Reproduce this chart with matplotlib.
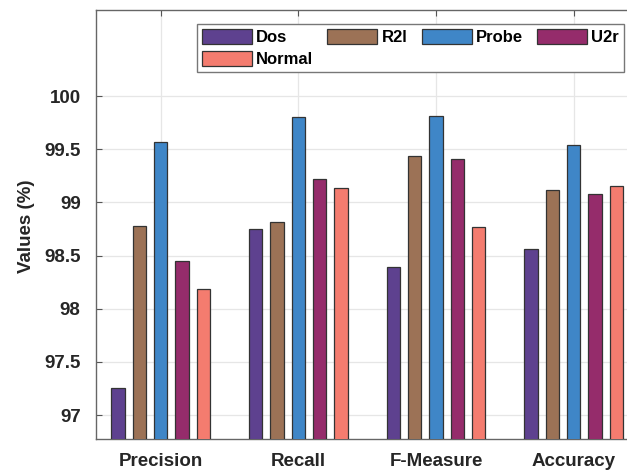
import numpy as np
import matplotlib
matplotlib.use('Agg')
import matplotlib.pyplot as plt

plt.rcParams['font.family'] = ['Liberation Sans', 'DejaVu Sans']
plt.rcParams['font.weight'] = 'bold'

# Data
metrics = ['Precision', 'Recall', 'F-Measure', 'Accuracy']
classes = ['Dos', 'R2l', 'Probe', 'U2r', 'Normal']
dos = [97.25, 98.75, 98.39, 98.56]
r2l = [98.78, 98.82, 99.44, 99.12]
probe = [99.57, 99.80, 99.81, 99.54]
u2r = [98.45, 99.22, 99.41, 99.08]
normal = [98.19, 99.14, 98.77, 99.15]
y_ticks = [97, 97.5, 98, 98.5, 99, 99.5, 100]
y_tick_labels = ['97', '97.5', '98', '98.5', '99', '99.5', '100']

series = [dos, r2l, probe, u2r, normal]
colors = ['#5e418f', '#9c7256', '#3f86c7', '#952c6b', '#f47c6f']

W, H = 627, 474
fig = plt.figure(figsize=(W / 100, H / 100), dpi=100)
# axes runs past the right edge of the image like in the reference
x0, x1 = 0.53, 4.5
px_per_unit = 137.7
ax_w = (x1 - x0) * px_per_unit
ax = fig.add_axes([96 / W, 35 / H, ax_w / W, 429 / H])

x = np.arange(1, len(metrics) + 1)
step = 0.155
width = 0.097
bars = []
for i, (vals, col) in enumerate(zip(series, colors)):
    b = ax.bar(x + (i - 2) * step, vals, width, color=col, edgecolor='#333333',
               linewidth=0.9, label=classes[i], zorder=3)
    bars.append(b)

ax.set_xlim(x0, x1)
ax.set_ylim(96.775, 100.81)
ax.set_xticks(x)
ax.set_xticklabels(metrics, fontsize=13.5, fontweight='bold', color='#262626')
ax.set_yticks(y_ticks)
ax.set_yticklabels(y_tick_labels, fontsize=13.5, fontweight='bold', color='#262626')
ax.set_ylabel('Values (%)', fontsize=13.5, fontweight='bold', color='#262626')
ax.yaxis.set_label_coords((35 - 96) / ax_w, (439 - 226) / 429)

ax.tick_params(direction='in', length=4, width=0.8, color='#555555', top=True, right=True)
ax.tick_params(axis='x', pad=10)
ax.tick_params(axis='y', pad=11)
ax.grid(True, color='#e6e6e6', linewidth=0.9, zorder=0)
ax.set_axisbelow(True)
for s in ax.spines.values():
    s.set_color('#666666')
    s.set_linewidth(1.0)

# legend order so the columns fill like the reference (row-major look)
order = [0, 4, 1, 2, 3]
leg = fig.legend([bars[i] for i in order], [classes[i] for i in order],
                 loc='upper left', bbox_to_anchor=(197 / W, 1 - 24 / H),
                 ncol=4, fontsize=12, frameon=True, fancybox=False,
                 edgecolor='#777777', framealpha=1, handlelength=3.0,
                 handleheight=1.0, handletextpad=0.25, columnspacing=0.85,
                 borderpad=0.3, labelspacing=0.35, borderaxespad=0)
leg.get_frame().set_linewidth(1.0)
for t in leg.get_texts():
    t.set_fontweight('bold')

fig.savefig('out.png', dpi=100)
